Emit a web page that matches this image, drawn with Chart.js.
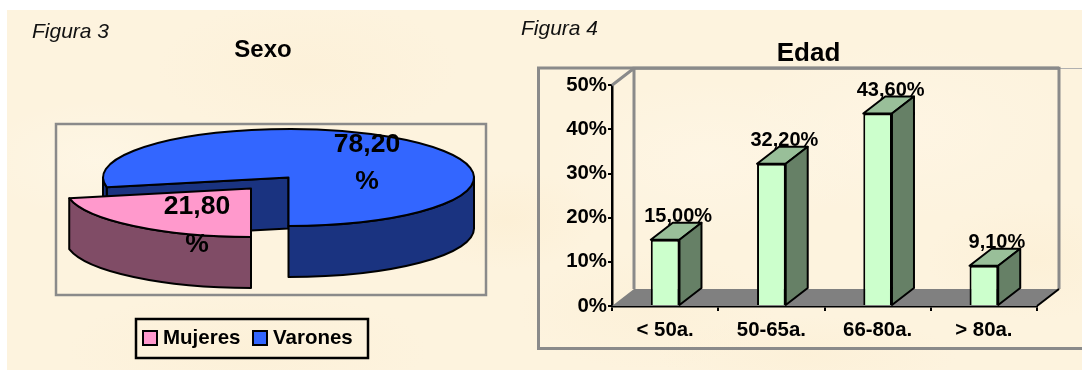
<!DOCTYPE html>
<html lang="es">
<head>
<meta charset="utf-8">
<title>Sexo y edad</title>
<script src="https://cdn.jsdelivr.net/npm/chart.js@4"></script>
<style>
  html, body { margin: 0; padding: 0; background: #fff; overflow: hidden; }
  #page { position: relative; width: 1082px; height: 370px; overflow: hidden; }
  #paper {
    position: absolute; left: 7px; top: 10px; right: 0; bottom: 0;
    background-color: #fdf3de;
    background-image:
      radial-gradient(ellipse 120px 60px at 90px 150px, rgba(255,250,238,.4), transparent),
      radial-gradient(ellipse 150px 70px at 300px 60px, rgba(251,236,206,.3), transparent),
      radial-gradient(ellipse 180px 60px at 240px 340px, rgba(251,236,206,.35), transparent),
      radial-gradient(ellipse 90px 50px at 500px 210px, rgba(251,234,200,.35), transparent),
      radial-gradient(ellipse 160px 80px at 700px 150px, rgba(255,248,234,.5), transparent),
      radial-gradient(ellipse 130px 60px at 640px 300px, rgba(251,236,206,.3), transparent),
      radial-gradient(ellipse 170px 90px at 900px 120px, rgba(255,247,232,.5), transparent),
      radial-gradient(ellipse 150px 40px at 800px 345px, rgba(251,236,206,.35), transparent),
      radial-gradient(ellipse 110px 60px at 1030px 250px, rgba(251,236,206,.4), transparent);
  }
  canvas { position: absolute; top: 0; }
  #sexoChart { left: 0; }
  #edadChart { left: 534px; }
  .fig {
    position: absolute; font: italic 21px "Liberation Sans", Arial, sans-serif;
    color: #111; line-height: 24px; white-space: nowrap;
  }
</style>
</head>
<body>
<div id="page">
  <div id="paper"></div>
  <canvas id="sexoChart" width="526" height="370"></canvas>
  <canvas id="edadChart" width="548" height="370"></canvas>
  <div class="fig" style="left:32px;top:19px">Figura 3</div>
  <div class="fig" style="left:521px;top:16px">Figura 4</div>
</div>
<script>
// Sexo
const sexoLabels = ['Mujeres', 'Varones'];
const sexoValues = [21.8, 78.2];
const sexoTop = ['#ff99cc', '#3366ff'];
const sexoSide = ['#804c66', '#1a3380'];

// Edad
const edadLabels = ['< 50a.', '50-65a.', '66-80a.', '> 80a.'];
const edadValues = [15.0, 32.2, 43.6, 9.1];

const FONT = '"Liberation Sans", Arial, sans-serif';
const GREY = '#8a8a8a';
const comma = v => v.toFixed(2).replace('.', ',');

Chart.defaults.animation = false;
Chart.defaults.responsive = false;
Chart.defaults.font.family = FONT;

// Extruded elliptical pie, built from the arc angles the doughnut controller computes
const pieShape = {
  rx: 185.5, ry: 48.5, depth: 51,
  centers: [{ x: 251, y: 188.5 }, { x: 288.5, y: 177.5 }],
  labelAt: [{ x: 197, y: 207, gap: 38 }, { x: 367, y: 145, gap: 37 }]
};

const pie3d = {
  id: 'pie3d',
  beforeDatasetsDraw(chart) {
    const { ctx } = chart;
    const { rx, ry, depth, centers } = pieShape;
    const arcs = chart.getDatasetMeta(0).data;
    ctx.save();
    ctx.lineWidth = 2;
    ctx.lineJoin = 'round';
    ctx.strokeStyle = '#000';
    // the large slice goes first so that the pulled-out one sits on top of it
    [1, 0].forEach(i => {
      const a0 = arcs[i].startAngle, a1 = arcs[i].endAngle;
      const c = centers[i];
      const pt = a => ({ x: c.x + rx * Math.cos(a), y: c.y + ry * Math.sin(a) });
      ctx.fillStyle = sexoSide[i];

      // cut face on the leading edge, when it looks toward the viewer
      if (Math.sin(a0 - Math.PI / 2) > 0.01) {
        const p = pt(a0);
        ctx.beginPath();
        ctx.moveTo(c.x, c.y);
        ctx.lineTo(p.x, p.y);
        ctx.lineTo(p.x, p.y + depth);
        ctx.lineTo(c.x, c.y + depth);
        ctx.closePath();
        ctx.fill();
        ctx.stroke();
      }

      // rim: only the part of the arc on the front half of the ellipse
      for (let k = 0; k < 2; k++) {
        const from = Math.max(a0, k * 2 * Math.PI);
        const to = Math.min(a1, k * 2 * Math.PI + Math.PI);
        if (to <= from) continue;
        ctx.beginPath();
        ctx.ellipse(c.x, c.y, rx, ry, 0, from, to);
        ctx.ellipse(c.x, c.y + depth, rx, ry, 0, to, from, true);
        ctx.closePath();
        ctx.fill();
        ctx.stroke();
      }

      ctx.beginPath();
      ctx.moveTo(c.x, c.y);
      ctx.ellipse(c.x, c.y, rx, ry, 0, a0, a1);
      ctx.closePath();
      ctx.fillStyle = sexoTop[i];
      ctx.fill();
      ctx.stroke();
    });
    ctx.restore();
    return false;
  }
};

// Panel frame, the percentages over the pie and the boxed key below it
const sexoFrame = {
  id: 'sexoFrame',
  beforeDraw(chart) {
    const { ctx } = chart;
    ctx.save();
    ctx.strokeStyle = GREY;
    ctx.lineWidth = 2.5;
    ctx.strokeRect(56, 124, 430, 171);
    ctx.restore();
  },
  afterDraw(chart) {
    const { ctx } = chart;
    ctx.save();
    ctx.fillStyle = '#000';
    ctx.font = 'bold 26.5px ' + FONT;
    ctx.textAlign = 'center';
    ctx.textBaseline = 'middle';
    sexoValues.forEach((v, i) => {
      const at = pieShape.labelAt[i];
      ctx.fillText(comma(v), at.x, at.y);
      ctx.fillText('%', at.x, at.y + at.gap);
    });

    ctx.textAlign = 'left';
    ctx.strokeStyle = '#000';
    ctx.lineWidth = 2.5;
    ctx.strokeRect(136, 319, 232, 39);
    ctx.font = 'bold 20.5px ' + FONT;
    const slots = [143, 253];
    sexoLabels.forEach((name, i) => {
      ctx.fillStyle = sexoTop[i];
      ctx.fillRect(slots[i], 331, 14, 14);
      ctx.lineWidth = 2;
      ctx.strokeRect(slots[i], 331, 14, 14);
      ctx.fillStyle = '#000';
      ctx.fillText(name, slots[i] + 20, 338);
    });
    ctx.restore();
  }
};

new Chart(document.getElementById('sexoChart'), {
  type: 'pie',
  data: {
    labels: sexoLabels,
    datasets: [{ data: sexoValues, backgroundColor: sexoTop, borderColor: '#000' }]
  },
  options: {
    rotation: 180,
    plugins: {
      legend: { display: false },
      tooltip: { enabled: false },
      title: {
        display: true, text: 'Sexo', color: '#000',
        font: { size: 24, weight: 'bold' },
        padding: { top: 36, bottom: 10 }
      }
    }
  },
  plugins: [pie3d, sexoFrame]
});

// Depth of the fake perspective on the bar panel
const DX = 22, DY = -17;

const barRoom = {
  id: 'barRoom',
  afterLayout(chart) {
    // centre the heading on the whole panel rather than on the layout box
    chart.titleBlock.left += 23;
    chart.titleBlock.right += 23;
  },
  beforeDatasetsDraw(chart) {
    const { ctx, chartArea: a } = chart;
    ctx.save();

    // outer frame runs off the right side of the page
    ctx.strokeStyle = GREY;
    ctx.lineWidth = 3;
    ctx.beginPath();
    ctx.moveTo(a.right + DX, 68);
    ctx.lineTo(4.5, 68);
    ctx.lineTo(4.5, 348.5);
    ctx.lineTo(chart.width + 4, 348.5);
    ctx.stroke();
    ctx.strokeStyle = '#b0b0b0';
    ctx.lineWidth = 1;
    ctx.beginPath();
    ctx.moveTo(a.right + DX, 68.5);
    ctx.lineTo(chart.width + 4, 68.5);
    ctx.stroke();

    // floor
    ctx.strokeStyle = GREY;
    ctx.lineWidth = 3;
    ctx.fillStyle = '#808080';
    ctx.beginPath();
    ctx.moveTo(a.left, a.bottom);
    ctx.lineTo(a.left + DX, a.bottom + DY);
    ctx.lineTo(a.right + DX, a.bottom + DY);
    ctx.lineTo(a.right, a.bottom);
    ctx.closePath();
    ctx.fill();

    // back wall outline and the diagonal at the top of the side wall
    ctx.beginPath();
    ctx.moveTo(a.left + DX, a.bottom + DY);
    ctx.lineTo(a.left + DX, a.top + DY);
    ctx.lineTo(a.right + DX, a.top + DY);
    ctx.lineTo(a.right + DX, a.bottom + DY);
    ctx.moveTo(a.left, a.top);
    ctx.lineTo(a.left + DX, a.top + DY);
    ctx.stroke();

    // floor front-right edge
    ctx.strokeStyle = '#000';
    ctx.lineWidth = 2;
    ctx.beginPath();
    ctx.moveTo(a.right, a.bottom);
    ctx.lineTo(a.right + DX, a.bottom + DY);
    ctx.stroke();

    // top and right faces of each column
    const bars = chart.getDatasetMeta(0).data;
    bars.forEach(b => {
      const half = b.width / 2;
      const l = b.x - half, r = b.x + half, t = b.y, base = b.base;
      ctx.lineJoin = 'round';
      ctx.fillStyle = '#99bf99';
      ctx.beginPath();
      ctx.moveTo(l, t);
      ctx.lineTo(l + DX, t + DY);
      ctx.lineTo(r + DX, t + DY);
      ctx.lineTo(r, t);
      ctx.closePath();
      ctx.fill();
      ctx.stroke();
      ctx.fillStyle = '#668066';
      ctx.beginPath();
      ctx.moveTo(r, t);
      ctx.lineTo(r + DX, t + DY);
      ctx.lineTo(r + DX, base + DY);
      ctx.lineTo(r, base);
      ctx.closePath();
      ctx.fill();
      ctx.stroke();
    });
    ctx.restore();
  },
  afterDatasetsDraw(chart) {
    const { ctx } = chart;
    const bars = chart.getDatasetMeta(0).data;
    ctx.save();
    ctx.fillStyle = '#000';
    ctx.font = 'bold 20px ' + FONT;
    ctx.textAlign = 'center';
    ctx.textBaseline = 'middle';
    bars.forEach((b, i) => {
      ctx.fillText(comma(edadValues[i]) + '%', b.x + 13, b.y - 23);
    });
    ctx.restore();
  }
};

new Chart(document.getElementById('edadChart'), {
  type: 'bar',
  data: {
    labels: edadLabels,
    datasets: [{
      data: edadValues,
      backgroundColor: '#ccffcc',
      borderColor: '#000',
      borderWidth: 2,
      barPercentage: 0.27,
      categoryPercentage: 1
    }]
  },
  options: {
    layout: { padding: { right: 45, bottom: 34, left: 0, top: 0 } },
    scales: {
      x: {
        afterFit(s) { s.height = 30; },
        border: { color: '#000', width: 2.5 },
        grid: { drawOnChartArea: false, color: '#000', lineWidth: 2, tickLength: 5 },
        ticks: { color: '#000', font: { size: 20.4, weight: 'bold' }, padding: 7, maxRotation: 0 }
      },
      y: {
        min: 0, max: 50,
        afterFit(s) { s.width = 78; },
        border: { color: '#000', width: 2.5 },
        grid: { drawOnChartArea: false, color: '#000', lineWidth: 2, tickLength: 4 },
        ticks: {
          stepSize: 10, color: '#000', padding: 1,
          font: { size: 20.4, weight: 'bold' },
          callback: v => v + '%'
        }
      }
    },
    plugins: {
      legend: { display: false },
      tooltip: { enabled: false },
      title: {
        display: true, text: 'Edad', color: '#000',
        font: { size: 26, weight: 'bold' },
        padding: { top: 38, bottom: 16 }
      }
    }
  },
  plugins: [barRoom]
});
</script>
</body>
</html>
